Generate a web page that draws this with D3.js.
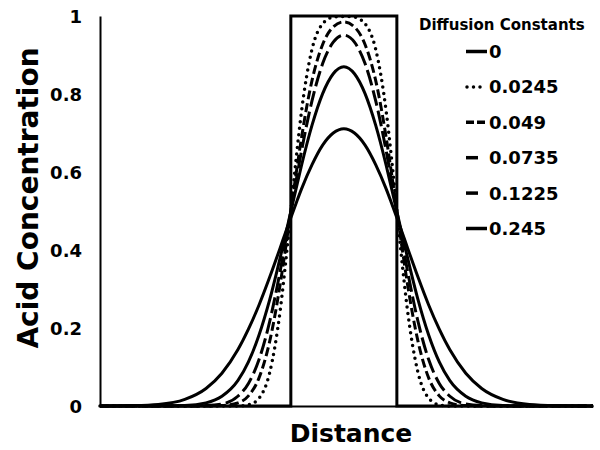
<!DOCTYPE html>
<html>

<head>
    <meta charset="utf-8">
    <title>Acid Concentration</title>
    <script src="https://d3js.org/d3.v7.min.js"></script>
    <style>
        body { margin: 0; background: #fff; }
        text { font-family: "DejaVu Sans", Verdana, sans-serif; font-weight: bold; fill: #000; }
        path.curve { fill: none; stroke: #000; }
    </style>
</head>

<body>
    <svg width="600" height="450"></svg>
    <script>
        // distance positions (arbitrary units, pulse between -1 and 1)
        const xs = [-4.6, -4.0, -3.5, -3.0, -2.6, -2.3, -2.0, -1.8, -1.6, -1.4, -1.2, -1.1, -1.0, -0.9, -0.8, -0.6, -0.4, -0.2,
            0,
            0.2, 0.4, 0.6, 0.8, 0.9, 1.0, 1.1, 1.2, 1.4, 1.6, 1.8, 2.0, 2.3, 2.6, 3.0, 3.5, 4.0, 4.7]

        const rectX = [-4.6, -1, -1, 1, 1, 4.7]
        const rectY = [0, 0, 1, 1, 0, 0]

        const d0245 = [0, 0, 0, 0, 0, 0, 0, 0.003, 0.020, 0.085, 0.246, 0.366, 0.500, 0.634, 0.754, 0.915, 0.980, 0.997,
            0.999,
            0.997, 0.980, 0.915, 0.754, 0.634, 0.500, 0.366, 0.246, 0.085, 0.020, 0.003, 0, 0, 0, 0, 0, 0, 0]
        const d049 = [0, 0, 0, 0, 0, 0.001, 0.008, 0.026, 0.072, 0.165, 0.313, 0.404, 0.500, 0.596, 0.687, 0.835, 0.927, 0.972,
            0.985,
            0.972, 0.927, 0.835, 0.687, 0.596, 0.500, 0.404, 0.313, 0.165, 0.072, 0.026, 0.008, 0.001, 0, 0, 0, 0, 0]
        const d0735 = [0, 0, 0, 0, 0.001, 0.005, 0.025, 0.058, 0.119, 0.216, 0.347, 0.422, 0.500, 0.578, 0.653, 0.783, 0.878, 0.933,
            0.951,
            0.933, 0.878, 0.783, 0.653, 0.578, 0.500, 0.422, 0.347, 0.216, 0.119, 0.058, 0.025, 0.005, 0.001, 0, 0, 0, 0]
        const d1225 = [0, 0, 0, 0.001, 0.008, 0.025, 0.065, 0.113, 0.182, 0.272, 0.381, 0.439, 0.499, 0.558, 0.616, 0.720, 0.801, 0.852,
            0.870,
            0.852, 0.801, 0.720, 0.616, 0.558, 0.499, 0.439, 0.381, 0.272, 0.182, 0.113, 0.065, 0.025, 0.008, 0.001, 0, 0, 0]
        const d245 = [0, 0.001, 0.004, 0.017, 0.045, 0.084, 0.144, 0.197, 0.259, 0.330, 0.406, 0.445, 0.483, 0.520, 0.556, 0.619, 0.669, 0.700,
            0.711,
            0.700, 0.669, 0.619, 0.556, 0.520, 0.483, 0.445, 0.406, 0.330, 0.259, 0.197, 0.144, 0.084, 0.045, 0.017, 0.004, 0.001, 0]

        const labels = ["0", "0.0245", "0.049", "0.0735", "0.1225", "0.245"]
        const yTicks = [0, 0.2, 0.4, 0.6, 0.8, 1]

        const svg = d3.select("svg")
        const margin = { top: 16, left: 100, right: 7, bottom: 44 }
        const width = +svg.attr("width")
        const height = +svg.attr("height")

        const x = d3.scaleLinear().domain([-4.6, 4.7]).range([margin.left, width - margin.right])
        const y = d3.scaleLinear().domain([0, 1]).range([height - margin.bottom, margin.top])

        const series = [
            { label: labels[0], xv: rectX, yv: rectY, width: 3, dash: null, cap: "butt", curve: d3.curveLinear, legDash: null, legEnd: 487 },
            { label: labels[1], xv: xs, yv: d0245, width: 3.5, dash: "0,6.5", cap: "round", curve: d3.curveMonotoneX, legDash: "0,6.5", legEnd: 481 },
            { label: labels[2], xv: xs, yv: d049, width: 3, dash: "9,4", cap: "butt", curve: d3.curveMonotoneX, legDash: "8,3", legEnd: 488 },
            { label: labels[3], xv: xs, yv: d0735, width: 3, dash: "16,5", cap: "butt", curve: d3.curveMonotoneX, legDash: "12,40", legEnd: 487 },
            { label: labels[4], xv: xs, yv: d1225, width: 3, dash: null, cap: "butt", curve: d3.curveMonotoneX, legDash: "12,40", legEnd: 487 },
            { label: labels[5], xv: xs, yv: d245, width: 3, dash: null, cap: "butt", curve: d3.curveMonotoneX, legDash: null, legEnd: 487 }
        ]

        series.forEach(s => {
            const pts = s.xv.map((v, i) => [v, s.yv[i]])
            const line = d3.line().x(d => x(d[0])).y(d => y(d[1])).curve(s.curve)
            svg.append("path")
                .attr("class", "curve")
                .datum(pts)
                .attr("d", line)
                .attr("stroke-width", s.width)
                .attr("stroke-dasharray", s.dash)
                .attr("stroke-linecap", s.cap)
        })

        // axes
        const yAxis = d3.axisLeft(y).tickValues(yTicks).tickFormat(d3.format("~g")).tickSize(0).tickPadding(18)
        const gy = svg.append("g").attr("transform", `translate(${margin.left},0)`).call(yAxis)
        gy.select(".domain").attr("stroke", "#000").attr("stroke-width", 2)
        gy.selectAll("text").style("font-size", "18px").attr("dy", "0.35em")

        const xAxis = d3.axisBottom(x).tickValues([]).tickSizeOuter(0)
        const gx = svg.append("g").attr("transform", `translate(0,${y(0)})`).call(xAxis)
        gx.select(".domain").attr("stroke", "#000").attr("stroke-width", 2)

        // titles
        svg.append("text")
            .attr("x", 351)
            .attr("y", 442)
            .attr("text-anchor", "middle")
            .style("font-size", "25px")
            .text("Distance")
        svg.append("text")
            .attr("transform", "translate(38,198) rotate(-90)")
            .attr("text-anchor", "middle")
            .style("font-size", "28px")
            .text("Acid Concentration")

        // legend
        svg.append("text")
            .attr("x", 419)
            .attr("y", 30)
            .style("font-size", "15px")
            .text("Diffusion Constants")

        const leg = svg.append("g")
        series.forEach((s, i) => {
            const by = 58 + i * 35.4
            leg.append("line")
                .attr("x1", s.cap === "round" ? 467 : 466)
                .attr("x2", s.legEnd)
                .attr("y1", by - 6.5)
                .attr("y2", by - 6.5)
                .attr("stroke", "#000")
                .attr("stroke-width", 3.5)
                .attr("stroke-dasharray", s.legDash)
                .attr("stroke-linecap", s.cap)
            leg.append("text")
                .attr("x", 489)
                .attr("y", by)
                .style("font-size", "18px")
                .text(s.label)
        })
    </script>
</body>

</html>
